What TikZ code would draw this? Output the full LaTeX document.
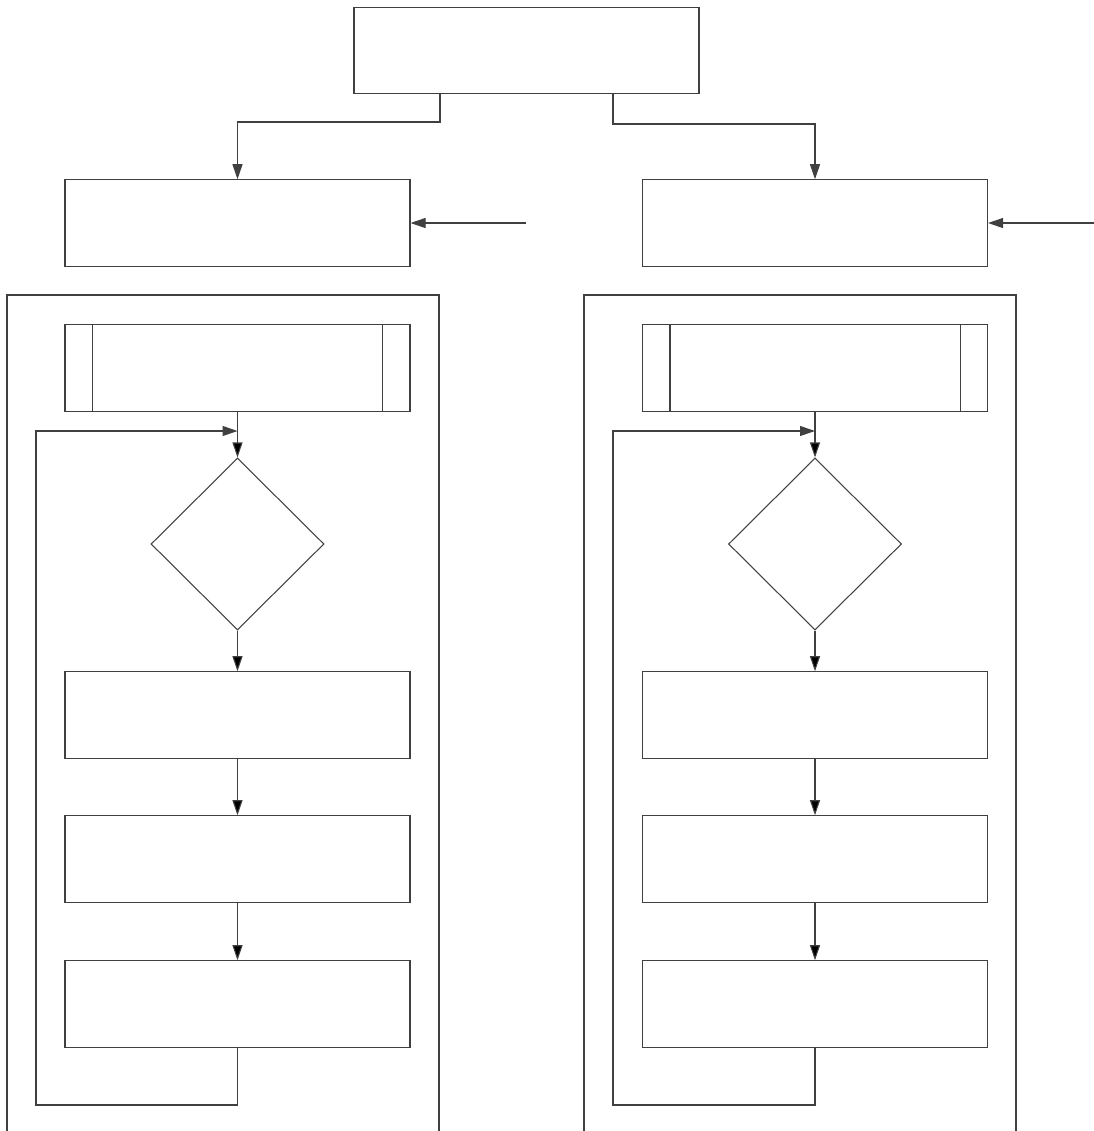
\documentclass[tikz,border=0pt]{standalone}
\usepackage{tikz}
\usetikzlibrary{arrows.meta,shapes.geometric}

\tikzset{
	line/.style={draw=black!75,line width=0.6pt},
	box/.style={line,rectangle,minimum width=6.9cm,minimum height=1.73cm,inner sep=0pt},
	subbox/.style={box},
	cond/.style={line,diamond,minimum width=3.46cm,minimum height=3.44cm,inner sep=0pt},
	flow/.style={line,-{Triangle[length=3mm,width=2mm]}}
}

\begin{document}
\begin{tikzpicture}
	\useasboundingbox (0,0) rectangle (21.88,-22.62);
	% top and the two entry boxes
	\node[box] (top) at (10.53,-1.01) {};
	\node[box] (inA) at (4.75,-4.46) {};
	\node[box] (inB) at (16.3,-4.46) {};
	\coordinate (feedA) at (10.52,-4.46);
	\coordinate (feedB) at (21.88,-4.46);
	% the two open frames
	\draw[line] (0.14,-22.62) |- (8.78,-5.9) -- (8.78,-22.62);
	\draw[line] (11.68,-22.62) |- (20.32,-5.9) -- (20.32,-22.62);
	% left column
	\node[subbox] (subA) at (4.75,-7.36) {};
	\node[cond] (decA) at (4.75,-10.88) {};
	\node[box] (actA1) at (4.75,-14.3) {};
	\node[box] (actA2) at (4.75,-17.18) {};
	\node[box] (actA3) at (4.75,-20.08) {};
	\draw[line] ([xshift=0.56cm]subA.north west) -- ([xshift=0.56cm]subA.south west)
		([xshift=-0.56cm]subA.north east) -- ([xshift=-0.56cm]subA.south east);
	% right column
	\node[subbox] (subB) at (16.3,-7.36) {};
	\node[cond] (decB) at (16.3,-10.88) {};
	\node[box] (actB1) at (16.3,-14.3) {};
	\node[box] (actB2) at (16.3,-17.18) {};
	\node[box] (actB3) at (16.3,-20.08) {};
	\draw[line] ([xshift=0.56cm]subB.north west) -- ([xshift=0.56cm]subB.south west)
		([xshift=-0.56cm]subB.north east) -- ([xshift=-0.56cm]subB.south east);
	% connectors
	\draw[flow] (top.south -| 8.8,0) |- (4.75,-2.44) -- (inA.north);
	\draw[flow] (top.south -| 12.26,0) |- (16.3,-2.48) -- (inB.north);
	\draw[flow] (feedA) -- (inA.east);
	\draw[flow] (feedB) -- (inB.east);
	\path[flow]
	(subA) edge (decA)
	(decA) edge (actA1)
	(actA1) edge (actA2)
	(actA2) edge (actA3)
	(subB) edge (decB)
	(decB) edge (actB1)
	(actB1) edge (actB2)
	(actB2) edge (actB3);
	\draw[flow] (actA3.south) -- (4.75,-22.1) -| (0.72,-8.62) -- (4.75,-8.62);
	\draw[flow] (actB3.south) -- (16.3,-22.1) -| (12.26,-8.62) -- (16.3,-8.62);
\end{tikzpicture}
\end{document}
